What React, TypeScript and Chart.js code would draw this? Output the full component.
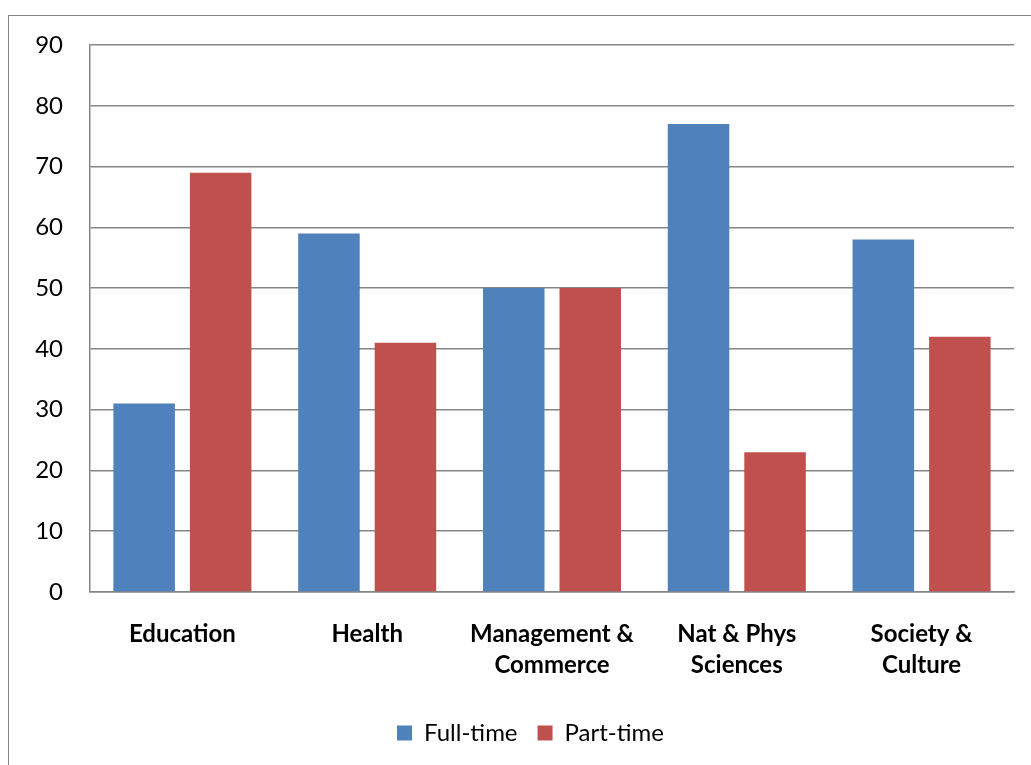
import React, { useEffect, useRef } from "react";
import { Chart, registerables } from "chart.js";
Chart.register(...registerables);

const categories: string[][] = [
  ["Education"],
  ["Health"],
  ["Management &", "Commerce"],
  ["Nat & Phys", "Sciences"],
  ["Society &", "Culture"],
];
const fullTime = [31, 59, 50, 77, 58];
const partTime = [69, 41, 50, 23, 42];
const seriesNames = ["Full-time", "Part-time"];
const yMin = 0;
const yMax = 90;
const yStep = 10;

const GRID = "#868686";
const FONT = "Lato";

export default function App() {
  const ref = useRef<HTMLCanvasElement>(null);
  useEffect(() => {
    const chart = new Chart(ref.current!, {
      type: "bar",
      data: {
        labels: categories,
        datasets: [
          {
            label: seriesNames[0],
            data: fullTime,
            backgroundColor: "#4F81BD",
            categoryPercentage: 0.828,
            barPercentage: 0.804,
          },
          {
            label: seriesNames[1],
            data: partTime,
            backgroundColor: "#C0504D",
            categoryPercentage: 0.828,
            barPercentage: 0.804,
          },
        ],
      },
      options: {
        animation: false,
        responsive: false,
        maintainAspectRatio: false,
        layout: { padding: { top: 29, right: 0, bottom: 10, left: 0 } },
        plugins: {
          tooltip: { enabled: false },
          legend: {
            position: "bottom",
            labels: {
              boxWidth: 15,
              boxHeight: 15,
              padding: 20,
              color: "#000",
              font: { family: FONT, size: 24 },
            },
          },
        },
        scales: {
          x: {
            grid: { display: false, drawTicks: false },
            border: { display: true, color: GRID, width: 1.5 },
            ticks: {
              color: "#000",
              font: { family: FONT, size: 24, weight: "bold", lineHeight: 1.29 },
              padding: 27,
              maxRotation: 0,
              autoSkip: false,
            },
            afterFit: (s: any) => {
              s.height = 109;
            },
          },
          y: {
            min: yMin,
            max: yMax,
            ticks: {
              stepSize: yStep,
              color: "#000",
              font: { family: FONT, size: 24 },
              padding: 27,
            },
            grid: { color: GRID, lineWidth: 1.5, drawTicks: false },
            border: { display: true, color: GRID, width: 1.5 },
            afterFit: (s: any) => {
              s.width = 80;
              s.paddingTop = 0;
              s.paddingBottom = 0;
            },
          },
          spacer: {
            position: "right",
            display: true,
            grid: { display: false, drawTicks: false },
            border: { display: false },
            ticks: { display: false },
            afterFit: (s: any) => {
              s.width = 37;
              s.paddingTop = 0;
              s.paddingBottom = 0;
            },
          },
        },
      },
    } as any);
    return () => chart.destroy();
  }, []);
  return (
    <div
      style={{
        position: "fixed",
        left: 0,
        top: 0,
        width: 1031,
        height: 765,
        overflow: "hidden",
        background: "#fff",
      }}
    >
      <div
        style={{
          position: "absolute",
          left: 8,
          top: 15,
          width: 1100,
          height: 800,
          border: "1px solid #868686",
        }}
      />
      <canvas
        ref={ref}
        width={1041}
        height={749}
        style={{ position: "absolute", left: 10, top: 16, width: 1041, height: 749 }}
      />
    </div>
  );
}
